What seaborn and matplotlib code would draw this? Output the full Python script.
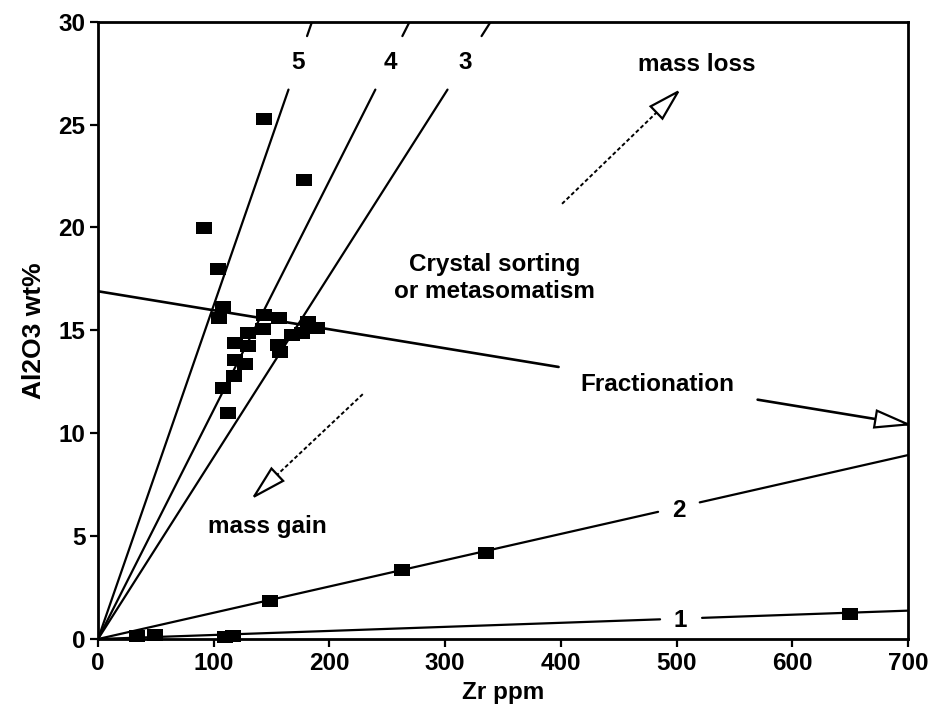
import numpy as np
import pandas as pd
import matplotlib
matplotlib.use("Agg")
import matplotlib.pyplot as plt
from matplotlib.path import Path
from matplotlib.patches import Polygon
import seaborn as sns

# ---- sample analyses: Zr (ppm) vs Al2O3 (wt%) ----
zr_ppm = [143.7, 178.3, 91.6, 104.0, 108.3, 104.6, 143.5, 156.4, 129.9, 142.9,
          118.4, 129.9, 155.8, 157.3, 167.4, 181.8, 189.0, 176.0, 118.4, 127.1,
          117.8, 108.3, 112.1,
          33.4, 49.3, 109.8, 116.9, 148.7, 263.0, 335.0, 650.0]
al2o3_wt = [25.27, 22.3, 19.95, 17.97, 16.13, 15.62, 15.75, 15.59, 14.86, 15.06,
            14.37, 14.24, 14.29, 13.97, 14.78, 15.43, 15.1, 14.86, 13.56, 13.37,
            12.79, 12.19, 10.97,
            0.15, 0.2, 0.1, 0.15, 1.85, 3.35, 4.2, 1.22]

# ---- constant Al2O3/Zr ratio lines through the origin ----
ratio_names = ["1", "2", "3", "4", "5"]
ratio_slopes = [0.00197, 0.01277, 0.0884, 0.1114, 0.1622]
ratio_label_x = [503.0, 502.0, 317.2, 252.4, 172.9]
ratio_label_y = [0.92, 6.27, 28.0, 28.0, 28.0]
# label gaps: in Zr for the shallow lines, in Al2O3 for the steep ones
shallow_gap_x = [(485.7, 522.0), (484.0, 520.0)]
steep_gap_y = (26.7, 29.3)

# ---- fractionation trend ----
frac_x = [0.0, 700.0]
frac_y = [16.9, 10.43]
frac_gap_x = (398.0, 570.0)

# ---- dashed mass change vectors (tail, tip) ----
loss_tail, loss_tip = (401.0, 21.15), (501.3, 26.6)
gain_tail, gain_tip = (228.8, 11.9), (134.8, 6.92)

x_ticks = [0, 100, 200, 300, 400, 500, 600, 700]
y_ticks = [0, 5, 10, 15, 20, 25, 30]

sns.set_style("ticks")
plt.rcParams["font.family"] = ["Liberation Sans", "DejaVu Sans"]
plt.rcParams["font.weight"] = "bold"
for key in ["text.color", "axes.labelcolor", "xtick.color", "ytick.color",
            "axes.edgecolor"]:
    plt.rcParams[key] = "black"

FS = 17.5
fig = plt.figure(figsize=(9.37, 7.09), dpi=100)
ax = fig.add_axes([0.1046, 0.0987, 0.8645, 0.8707])
ax.set_xlim(0, 700)
ax.set_ylim(0, 30)


def frac_line(x):
    return frac_y[0] + (frac_y[1] - frac_y[0]) * (x - frac_x[0]) / (frac_x[1] - frac_x[0])


# build line segments (broken where the labels sit)
rows = []
seg = 0
for i, s in enumerate(ratio_slopes):
    if i < 2:
        g0, g1 = shallow_gap_x[i]
        pieces = [(0.0, g0), (g1, 700.0)]
    else:
        pieces = [(0.0, steep_gap_y[0] / s), (steep_gap_y[1] / s, 30.0 / s)]
    for a, b in pieces:
        rows.append((seg, a, s * a))
        rows.append((seg, b, s * b))
        seg += 1
lines_df = pd.DataFrame(rows, columns=["seg", "zr", "al"])
sns.lineplot(data=lines_df, x="zr", y="al", units="seg", estimator=None,
             sort=False, color="black", lw=1.6, ax=ax, legend=False)

frac_rows = [(0, frac_x[0], frac_y[0]), (0, frac_gap_x[0], frac_line(frac_gap_x[0])),
             (1, frac_gap_x[1], frac_line(frac_gap_x[1])), (1, frac_x[1], frac_y[1])]
frac_df = pd.DataFrame(frac_rows, columns=["seg", "zr", "al"])
sns.lineplot(data=frac_df, x="zr", y="al", units="seg", estimator=None,
             sort=False, color="black", lw=1.9, ax=ax, legend=False)

# dashed vectors
for tail, tip in [(loss_tail, loss_tip), (gain_tail, gain_tip)]:
    ax.plot([tail[0], tip[0]], [tail[1], tip[1]], color="black", lw=1.4,
            dashes=(2.0, 1.3), zorder=3)


def open_head(tail, tip, length=31, half_width=8.5):
    """Hollow triangular arrow head at `tip`, pointing away from `tail`."""
    T = ax.transData
    p0 = T.transform(tail)
    p1 = T.transform(tip)
    d = (p1 - p0) / np.hypot(*(p1 - p0))
    n = np.array([-d[1], d[0]])
    base = p1 - d * length
    verts = T.inverted().transform(np.array([p1, base + n * half_width, base - n * half_width]))
    ax.add_patch(Polygon(verts, closed=True, fc="white", ec="black", lw=1.6,
                         zorder=6, clip_on=False, joinstyle="miter"))


open_head(loss_tail, loss_tip, 30, 8.5)
open_head(gain_tail, gain_tip, 32, 8.5)
open_head((frac_gap_x[1], frac_line(frac_gap_x[1])), (frac_x[1], frac_y[1]), 33, 8.5)

# samples as filled rectangles
rect = Path([(-0.68, -0.5), (0.68, -0.5), (0.68, 0.5), (-0.68, 0.5), (-0.68, -0.5)],
            [Path.MOVETO, Path.LINETO, Path.LINETO, Path.LINETO, Path.CLOSEPOLY])
sns.scatterplot(x=zr_ppm, y=al2o3_wt, marker=rect, s=118, color="black",
                linewidth=0, ax=ax, zorder=5, clip_on=False, legend=False)

# labels on the reference lines
for name, lx, ly in zip(ratio_names, ratio_label_x, ratio_label_y):
    ax.text(lx, ly, name, ha="center", va="center", fontsize=FS, fontweight="bold")

ax.text(483, 12.35, "Fractionation", ha="center", va="center", fontsize=FS, fontweight="bold")
ax.text(517.7, 27.9, "mass loss", ha="center", va="center", fontsize=FS, fontweight="bold")
ax.text(146, 5.45, "mass gain", ha="center", va="center", fontsize=FS, fontweight="bold")
ax.text(343, 17.55, "Crystal sorting\nor metasomatism", ha="center", va="center",
        fontsize=FS, fontweight="bold", linespacing=1.25)

ax.set_xticks(x_ticks)
ax.set_yticks(y_ticks)
ax.tick_params(direction="out", length=6, width=1.6, labelsize=FS, pad=3,
               colors="black")
for lab in ax.get_xticklabels() + ax.get_yticklabels():
    lab.set_fontweight("bold")
for sp in ax.spines.values():
    sp.set_visible(True)
    sp.set_linewidth(2.0)
    sp.set_color("black")

ax.set_xlabel("Zr ppm", fontsize=FS, fontweight="bold", labelpad=5)
ax.set_ylabel("Al2O3 wt%", fontsize=19, fontweight="bold", labelpad=9)

fig.savefig("out.png", dpi=100, facecolor="white")
